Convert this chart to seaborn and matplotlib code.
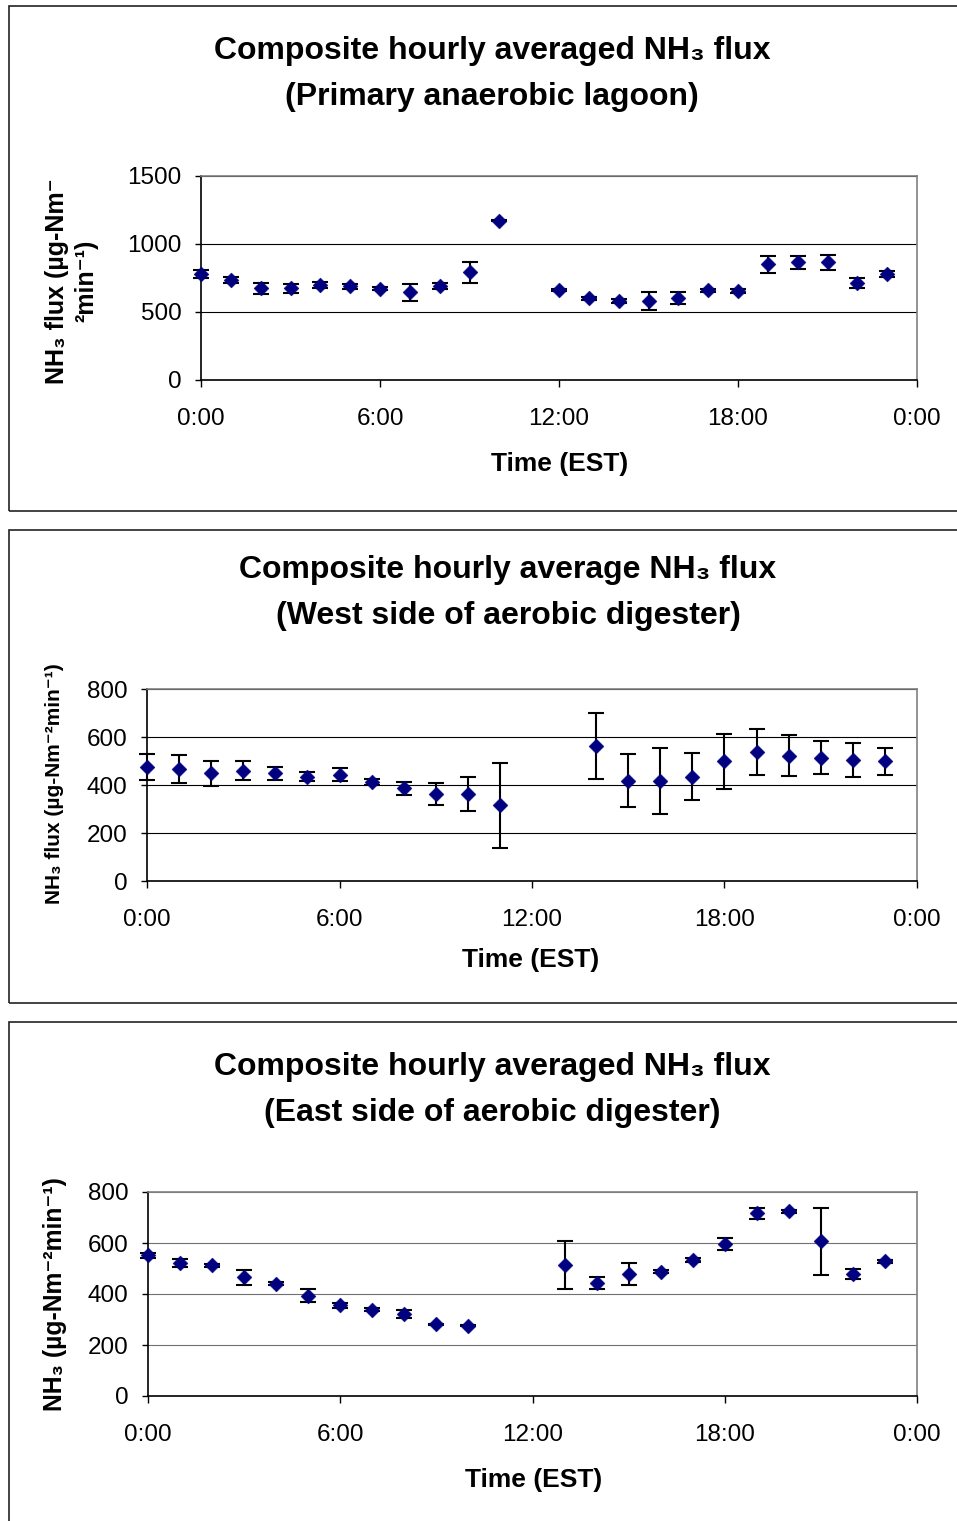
import numpy as np
import pandas as pd
import matplotlib
matplotlib.use("Agg")
import matplotlib.pyplot as plt
import seaborn as sns
from matplotlib.patches import Rectangle

sns.set_theme(style="white")
plt.rcParams['font.family'] = ['Liberation Sans', 'DejaVu Sans']
plt.rcParams['text.color'] = 'black'
plt.rcParams['xtick.color'] = 'black'
plt.rcParams['ytick.color'] = 'black'

# ---------------- data ----------------
lagoon_hours = [0, 1, 2, 3, 4, 5, 6, 7, 8, 9, 10,
                12, 13, 14, 15, 16, 17, 18, 19, 20, 21, 22, 23]
lagoon_flux = [779, 735, 674, 674, 701, 689, 672, 645, 691, 792, 1172,
               659, 600, 581, 583, 600, 659, 657, 850, 865, 865, 713, 779]
lagoon_err = [27, 20, 40, 33, 23, 17, 10, 61, 22, 76, 5,
              8, 12, 13, 67, 44, 10, 15, 61, 47, 55, 40, 20]

west_hours = [0, 1, 2, 3, 4, 5, 6, 7, 8, 9, 10, 11,
              14, 15, 16, 17, 18, 19, 20, 21, 22, 23]
west_flux = [474, 466, 449, 459, 449, 435, 442, 411, 386, 364, 364, 315,
             561, 418, 418, 435, 498, 537, 522, 513, 505, 498]
west_err = [54, 59, 52, 40, 27, 20, 27, 12, 27, 46, 71, 178,
            138, 110, 138, 99, 115, 95, 86, 69, 71, 56]

east_hours = [0, 1, 2, 3, 4, 5, 6, 7, 8, 9, 10,
              13, 14, 15, 16, 17, 18, 19, 20, 21, 22, 23]
east_flux = [551, 520, 512, 465, 441, 394, 355, 339, 322, 281, 276,
             513, 442, 480, 488, 535, 596, 716, 724, 606, 478, 528]
east_err = [10, 16, 6, 28, 5, 25, 10, 6, 16, 3, 3,
            95, 24, 43, 6, 8, 24, 20, 6, 133, 20, 6]

x_ticks = [0, 6, 12, 18, 24]
x_tick_labels = ["0:00", "6:00", "12:00", "18:00", "0:00"]

titles = [
    "Composite hourly averaged NH\u2083 flux\n(Primary anaerobic lagoon)",
    "Composite hourly average NH\u2083 flux\n(West side of aerobic digester)",
    "Composite hourly averaged NH\u2083 flux\n(East side of aerobic digester)",
]
ylabels = [
    "NH\u2083 flux (\u00b5g-Nm\u207b\n\u00b2min\u207b\u00b9)",
    "NH\u2083 flux (\u00b5g-Nm\u207b\u00b2min\u207b\u00b9)",
    "NH\u2083 (\u00b5g-Nm\u207b\u00b2min\u207b\u00b9)",
]
xlabel = "Time (EST)"

# ---------------- layout helpers ----------------
W, H = 957, 1521
DPI = 100
fig = plt.figure(figsize=(W / DPI, H / DPI), dpi=DPI)
fig.patch.set_facecolor("white")


def px_axes(l, t, r, b):
    return fig.add_axes([l / W, 1 - b / H, (r - l) / W, (b - t) / H])


def fx(x):
    return x / W


def fy(y):
    return 1 - y / H


# panel frames
for top, bot in [(6, 511), (530, 1003), (1022, 1540)]:
    fig.patches.append(Rectangle((fx(8.5), fy(bot)), fx(990) - fx(8.5), fy(top) - fy(bot),
                                 transform=fig.transFigure, fill=False,
                                 edgecolor="#222222", linewidth=1.2, zorder=0))


def draw(ax, hours, vals, errs, ymax, ystep, gridcolor):
    df = pd.DataFrame({"hour": hours, "flux": vals, "err": errs})
    ax.errorbar(df["hour"], df["flux"], yerr=df["err"], fmt="none",
                ecolor="black", elinewidth=1.5, capsize=5.5, capthick=1.5,
                zorder=3, clip_on=False)
    sns.scatterplot(data=df, x="hour", y="flux", marker="D", s=58,
                    color="#000080", edgecolor="#000080", linewidth=0.3,
                    ax=ax, zorder=4, clip_on=False, legend=False)
    ax.set_xlim(0, 24)
    ax.set_ylim(0, ymax)
    ax.set_xticks(x_ticks)
    ax.set_xticklabels(x_tick_labels)
    ax.set_yticks(np.arange(0, ymax + 1, ystep))
    ax.set_xlabel("")
    ax.set_ylabel("")
    ax.yaxis.grid(True, color=gridcolor, linewidth=0.8)
    ax.xaxis.grid(False)
    ax.set_axisbelow(True)
    for s in ["top", "right"]:
        ax.spines[s].set_color("#808080")
        ax.spines[s].set_linewidth(1.2)
    for s in ["left", "bottom"]:
        ax.spines[s].set_color("black")
        ax.spines[s].set_linewidth(1.2)
    ax.tick_params(axis="x", direction="out", length=5, width=1, pad=15,
                   labelsize=17.5, colors="black", bottom=True)
    ax.tick_params(axis="y", direction="out", length=4, width=1, pad=10,
                   labelsize=17.5, colors="black", left=True)
    ax.set_facecolor("white")


ax1 = px_axes(201, 176, 917, 380)
draw(ax1, lagoon_hours, lagoon_flux, lagoon_err, 1500, 500, "black")
ax2 = px_axes(147, 689, 917, 881)
draw(ax2, west_hours, west_flux, west_err, 800, 200, "black")
ax3 = px_axes(148, 1192, 917, 1396)
draw(ax3, east_hours, east_flux, east_err, 800, 200, "#707070")

# titles
for (cx, cy), t in zip([(492, 74), (508, 593), (492, 1090)], titles):
    fig.text(fx(cx), fy(cy), t, ha="center", va="center", fontsize=23,
             fontweight="bold", linespacing=1.72, color="black")

# x labels
for cx, cy in [(560, 464), (531, 960), (534, 1480)]:
    fig.text(fx(cx), fy(cy), xlabel, ha="center", va="center", fontsize=19,
             fontweight="bold", color="black")

# y labels
fig.text(fx(72), fy(281), ylabels[0], ha="center", va="center", rotation=90,
         fontsize=18, fontweight="bold", multialignment="center",
         linespacing=1.3, color="black")
fig.text(fx(55), fy(784), ylabels[1], ha="center", va="center", rotation=90,
         fontsize=15, fontweight="bold", color="black")
fig.text(fx(55), fy(1294), ylabels[2], ha="center", va="center", rotation=90,
         fontsize=17.8, fontweight="bold", color="black")

fig.savefig("out.png", dpi=DPI, facecolor="white")
